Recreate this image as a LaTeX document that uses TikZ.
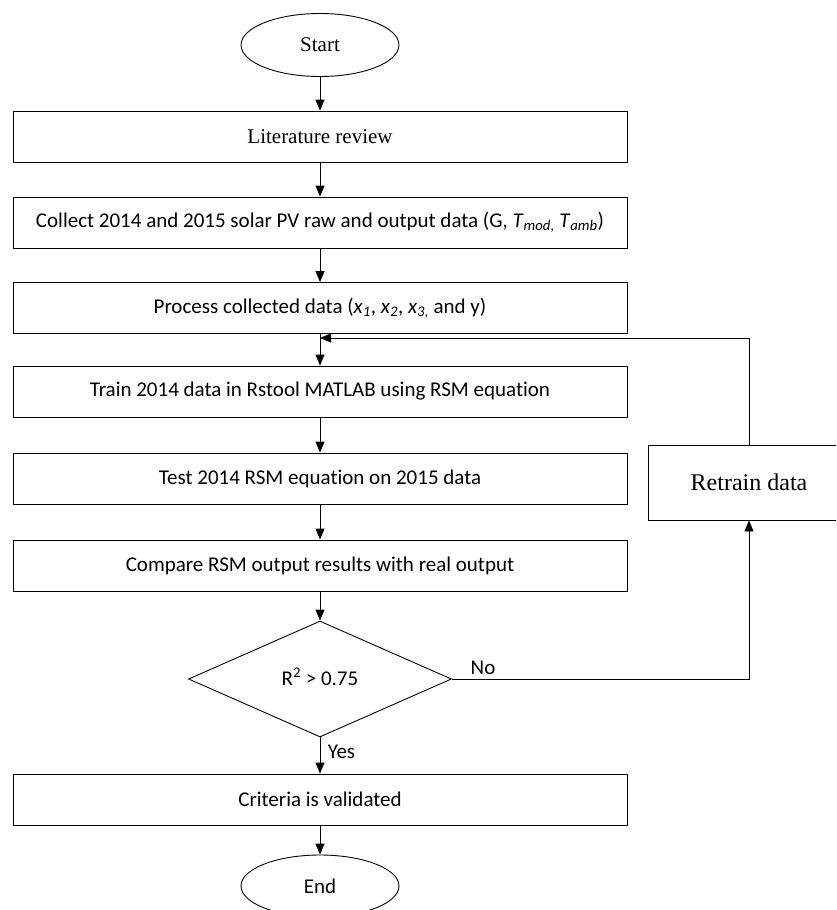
\documentclass[tikz,border=0pt]{standalone}
\usepackage{fontspec}
\setmainfont{Carlito}[Ligatures=NoCommon]
\newfontfamily\timesfont{Liberation Serif}
\usetikzlibrary{shapes.geometric,arrows.meta}

\begin{document}
\begin{tikzpicture}[x=1pt,y=-1pt,line width=0.9pt,
		font=\fontsize{21}{25}\selectfont,
		box/.style={draw,rectangle,minimum width=614pt,minimum height=51pt,inner sep=0pt},
		term/.style={draw,ellipse,minimum width=158pt,minimum height=63pt,inner sep=0pt},
		arr/.style={-{Triangle[length=11pt,width=9pt]}}]
			\useasboundingbox (0,0) rectangle (836,910);
			\clip (0,0) rectangle (836,910);
			\node[term] (start) at (320,45) {\timesfont Start};
			\node[box] (lit) at (320,136.5) {\timesfont Literature review};
			\node[box] (collect) at (320,222.5) {Collect 2014 and 2015 solar PV raw and output data (G, \textit{T}\textsubscript{\textit{mod},} \textit{T}\textsubscript{\textit{amb}})};
			\node[box] (process) at (320,308) {Process collected data (\textit{x}\textsubscript{\textit{1}}, \textit{x}\textsubscript{\textit{2}}, \textit{x}\textsubscript{\textit{3},} and y)};
			\node[box] (train) at (320,391.5) {Train 2014 data in Rstool MATLAB using RSM equation};
			\node[box] (test) at (320,478.5) {Test 2014 RSM equation on 2015 data};
			\node[box] (comp) at (320,565.5) {Compare RSM output results with real output};
			\node[draw,diamond,minimum width=263pt,minimum height=116pt,inner sep=0pt] (dec) at (320,679) {\raisebox{5pt}{R\textsuperscript{2} > 0.75}};
			\node[box] (crit) at (320,799.5) {Criteria is validated};
			\node[term,minimum height=62pt] (end) at (320,886) {End};
			\node[draw,rectangle,minimum width=202pt,minimum height=75pt,inner sep=0pt] (retrain) at (749,482.5) {\fontsize{24}{28}\selectfont\timesfont Retrain data};
			\coordinate (join) at (320,338);
			% main flow
			\draw[arr] (start) -- (lit);
			\draw[arr] (lit) -- (collect);
			\draw[arr] (collect) -- (process);
			\draw[arr] (process) -- (train);
			\draw[arr] (train) -- (test);
			\draw[arr] (test) -- (comp);
			\draw[arr] (comp) -- (dec);
			\draw[arr] (dec) -- (crit);
			\draw[arr] (crit) -- (end);
			% loop back
			\draw[arr] (dec.east) -| (retrain.south);
			\draw[arr] (retrain.north) |- (join);
			\node (no) at (483,668) {No};
			\node[anchor=west] (yes) at (324,752) {Yes};
		\end{tikzpicture}
\end{document}
